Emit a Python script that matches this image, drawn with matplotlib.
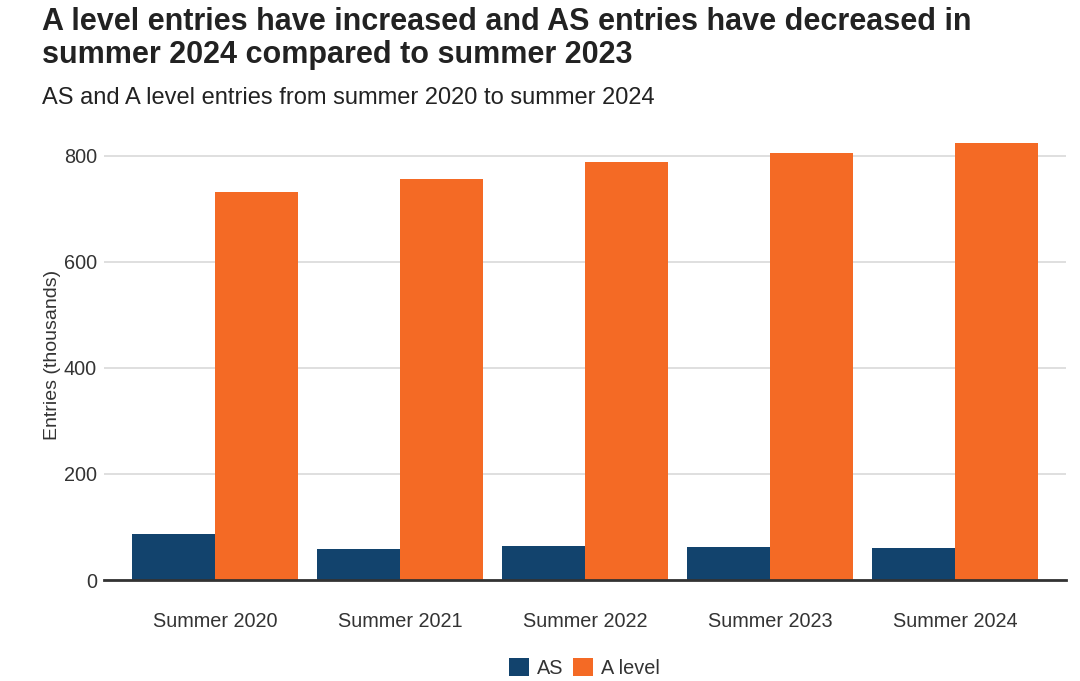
import matplotlib.pyplot as plt
import numpy as np

plt.rcParams['font.family'] = ['Liberation Sans', 'DejaVu Sans']

# entries in thousands
years = ['Summer 2020', 'Summer 2021', 'Summer 2022', 'Summer 2023', 'Summer 2024']
as_entries = [86, 58, 64, 63, 60]
a_level_entries = [731, 757, 789, 806, 824]

navy = '#12436D'
orange = '#F46A25'

fig = plt.figure(figsize=(10.8, 6.81), dpi=100)
ax = fig.add_axes([0.0963, 0.1483, 0.8907, 0.662])

x = np.arange(len(years))
w = 0.45
ax.bar(x - w / 2, as_entries, width=w, color=navy, label='AS', zorder=3)
ax.bar(x + w / 2, a_level_entries, width=w, color=orange, label='A level', zorder=3)

ax.set_xlim(-0.6, 4.6)
ax.set_ylim(0, 850)
ax.set_yticks([0, 200, 400, 600, 800])
ax.set_xticks(x)
ax.set_xticklabels(years)
ax.tick_params(axis='both', length=0, labelsize=14.3, colors='#333333')
ax.tick_params(axis='x', pad=23)
ax.tick_params(axis='y', pad=5)
ax.grid(axis='y', color='#dcdcdc', linewidth=1.3, zorder=0)

for side in ['top', 'right', 'left']:
    ax.spines[side].set_visible(False)
ax.spines['bottom'].set_color('#333333')
ax.spines['bottom'].set_linewidth(2)
ax.spines['bottom'].set_zorder(4)

ax.set_ylabel('Entries (thousands)', fontsize=14, color='#333333', labelpad=2)

fig.text(0.039, 0.99, 'A level entries have increased and AS entries have decreased in\nsummer 2024 compared to summer 2023',
         fontsize=22, fontweight='bold', color='#222222', va='top', linespacing=1.12)
fig.text(0.039, 0.856, 'AS and A level entries from summer 2020 to summer 2024',
         fontsize=17, color='#222222', va='center')

fig.legend(loc='center', bbox_to_anchor=(0.541, 0.019), ncol=2, frameon=False,
           fontsize=14.3, handlelength=1.0, handleheight=1.0, handletextpad=0.4,
           columnspacing=0.5, labelcolor='#333333')

fig.savefig('out.png', dpi=100)
